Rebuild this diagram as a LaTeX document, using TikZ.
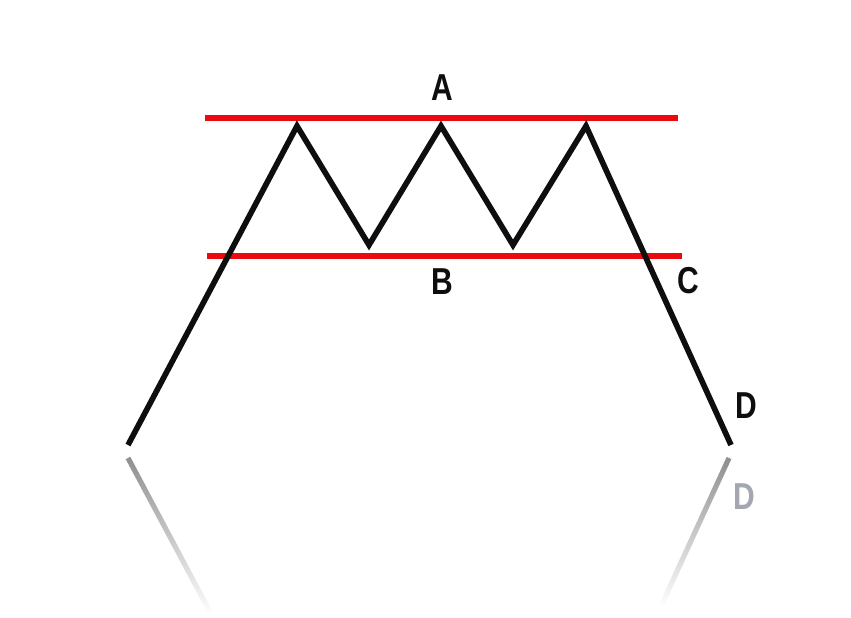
\documentclass[tikz,border=0pt]{standalone}
\usepackage{fontspec}
\setmainfont{Liberation Sans}
\newfontfamily\pattfont[FakeStretch=0.8]{Liberation Sans}
\usetikzlibrary{fadings}
\definecolor{pattred}{HTML}{EA0A10}
\definecolor{pattink}{HTML}{0E0E0E}
\definecolor{pattshade}{HTML}{8E8E8E}
\definecolor{pattghost}{HTML}{A3A7B0}
\tikzfading[name=fade down, top color=transparent!0, bottom color=transparent!100]

\begin{document}
\begin{tikzpicture}[x=0.03cm, y=-0.03cm,
    lbl/.style={font=\pattfont\fontsize{32}{34}\selectfont\bfseries, text=pattink, inner sep=0pt},
    level/.style={draw=pattred, line width=5.2pt},
    trend/.style={draw=pattink, line width=4.8pt, line join=miter},
    mirror/.style={draw=pattshade, line width=4.4pt, path fading=fade down}]
    \useasboundingbox[fill=white] (0,0) rectangle (851,617);
    % zigzag points
    \coordinate (s) at (128,445);
    \coordinate (p1) at (297,126);
    \coordinate (t1) at (369,245);
    \coordinate (p2) at (441,126);
    \coordinate (t2) at (513,245);
    \coordinate (p3) at (586,126);
    \coordinate (e) at (731,445);
    % support and resistance
    \coordinate (topL) at (205,118);
    \coordinate (topR) at (678,118);
    \coordinate (botL) at (207,256);
    \coordinate (botR) at (682,256);
    \draw[level] (topL) -- (topR);
    \draw[level] (botL) -- (botR);
    \draw[trend] (s) -- (p1) -- (t1) -- (p2) -- (t2) -- (p3) -- (e);
    % reflection
    \coordinate (ms) at (128,458);
    \coordinate (mse) at (210,612);
    \coordinate (me) at (729,458);
    \coordinate (mee) at (662,604);
    \draw[mirror] (ms) -- (mse);
    \draw[mirror] (me) -- (mee);
    % labels
    \node[lbl] (labA) at (442,88) {A};
    \node[lbl] (labB) at (442,282) {B};
    \node[lbl] (labC) at (688,281) {C};
    \node[lbl] (labD) at (746,406) {D};
    \node[lbl, text=pattghost] (labDm) at (744,497) {D};
\end{tikzpicture}
\end{document}
